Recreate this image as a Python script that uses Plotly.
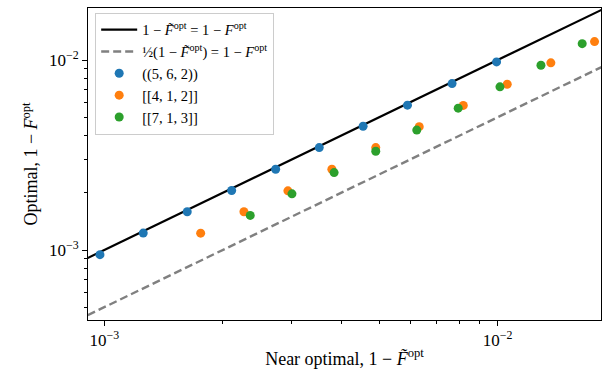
import math
import plotly.graph_objects as go

# Reference lines span
line_x = [8.0e-4, 2.2e-2]

# ((5, 6, 2))
blue_x = [9.75e-4, 1.256e-3, 1.625e-3, 2.108e-3, 2.727e-3, 3.52e-3, 4.55e-3, 5.90e-3, 7.66e-3, 9.94e-3]
blue_y = [9.45e-4, 1.228e-3, 1.589e-3, 2.057e-3, 2.662e-3, 3.46e-3, 4.48e-3, 5.79e-3, 7.52e-3, 9.78e-3]

# [[4, 1, 2]]
orange_x = [1.758e-3, 2.265e-3, 2.93e-3, 3.79e-3, 4.90e-3, 6.32e-3, 8.18e-3, 1.058e-2, 1.366e-2, 1.764e-2]
orange_y = [1.227e-3, 1.589e-3, 2.048e-3, 2.662e-3, 3.46e-3, 4.46e-3, 5.77e-3, 7.46e-3, 9.67e-3, 1.251e-2]

# [[7, 1, 3]]
green_x = [2.35e-3, 3.00e-3, 3.84e-3, 4.90e-3, 6.23e-3, 7.94e-3, 1.014e-2, 1.289e-2, 1.641e-2]
green_y = [1.521e-3, 1.975e-3, 2.557e-3, 3.31e-3, 4.28e-3, 5.58e-3, 7.23e-3, 9.39e-3, 1.220e-2]

x_range = [9.09e-4, 1.832e-2]
y_range = [4.28e-4, 1.88e-2]

major_ticks = [1e-3, 1e-2]
major_text = ["10<sup>\u22123</sup>", "10<sup>\u22122</sup>"]
x_minor = [2e-3, 3e-3, 4e-3, 5e-3, 6e-3, 7e-3, 8e-3, 9e-3]
y_minor = [5e-4, 6e-4, 7e-4, 8e-4, 9e-4, 2e-3, 3e-3, 4e-3, 5e-3, 6e-3, 7e-3, 8e-3, 9e-3]

FT = "<i>F\u0303</i><sup>opt</sup>"
F = "<i>F</i><sup>opt</sup>"

fig = go.Figure()
fig.add_trace(go.Scatter(
    x=line_x, y=[v for v in line_x], mode="lines",
    line=dict(color="black", width=2.2),
    name=f"1 \u2212 {FT} = 1 \u2212 {F}"))
fig.add_trace(go.Scatter(
    x=line_x, y=[v / 2 for v in line_x], mode="lines",
    line=dict(color="#808080", width=2.4, dash="8px,4px"),
    name=f"\u00bd(1 \u2212 {FT}) = 1 \u2212 {F}"))
fig.add_trace(go.Scatter(
    x=blue_x, y=blue_y, mode="markers",
    marker=dict(color="#1f77b4", size=9), name="((5, 6, 2))"))
fig.add_trace(go.Scatter(
    x=orange_x, y=orange_y, mode="markers",
    marker=dict(color="#ff7f0e", size=9), name="[[4, 1, 2]]"))
fig.add_trace(go.Scatter(
    x=green_x, y=green_y, mode="markers",
    marker=dict(color="#2ca02c", size=9), name="[[7, 1, 3]]"))

axis_common = dict(
    type="log", showgrid=False, zeroline=False,
    showline=True, linecolor="black", linewidth=1, mirror=True,
    ticks="outside", ticklen=5, tickwidth=1, tickcolor="black",
    tickvals=major_ticks, ticktext=major_text,
    tickfont=dict(size=17, color="black", family="Liberation Serif"),
)

fig.update_xaxes(
    **axis_common,
    range=[math.log10(v) for v in x_range],
    minor=dict(tickvals=x_minor, ticklen=3, tickwidth=1, tickcolor="black", ticks="outside"),
    title=dict(text=f"Near optimal, 1 \u2212 {FT}", font=dict(size=18, color="black", family="Liberation Serif"), standoff=2),
)
fig.update_yaxes(
    **axis_common,
    range=[math.log10(v) for v in y_range],
    minor=dict(tickvals=y_minor, ticklen=3, tickwidth=1, tickcolor="black", ticks="outside"),
    title=dict(text=f"Optimal, 1 \u2212 {F}", font=dict(size=18, color="black", family="Liberation Serif"), standoff=6),
)

fig.update_layout(
    width=603, height=377,
    margin=dict(l=88, r=2, t=8, b=57, autoexpand=False),
    plot_bgcolor="white", paper_bgcolor="white",
    font=dict(family="Liberation Serif", color="black"),
    legend=dict(
        x=0.014, y=0.985, xanchor="left", yanchor="top",
        bgcolor="rgba(255,255,255,0.8)", bordercolor="#cccccc", borderwidth=1,
        font=dict(size=14.5, family="Liberation Serif", color="black"),
        tracegroupgap=0, itemwidth=36,
    ),
)

fig.write_html("out.html", post_script="document.body.style.margin='0';",
               config={"displayModeBar": False})
